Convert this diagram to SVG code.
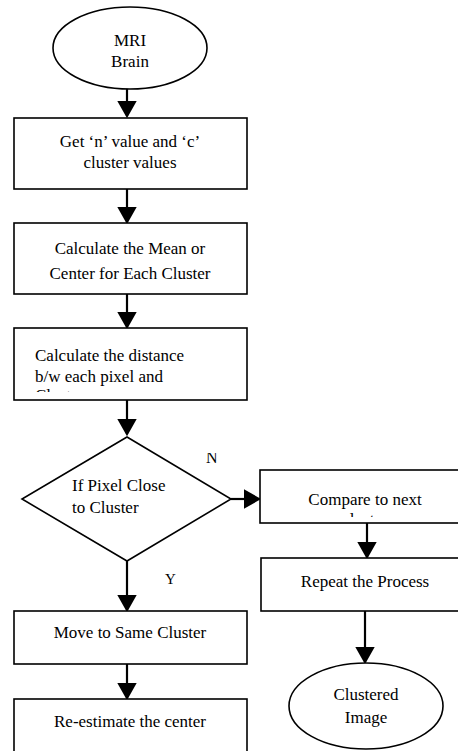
<svg xmlns="http://www.w3.org/2000/svg" width="458" height="751" viewBox="0 0 458 751">
<style>
.s{fill:#fff;stroke:#000;stroke-width:1.6}
.t{font-family:"Liberation Serif","Times New Roman",serif;font-size:17px;fill:#000}
.c{text-anchor:middle}
.l{fill:none;stroke:#000;stroke-width:2.2}
</style>
<defs>
<marker id="a" markerWidth="8" markerHeight="9" refX="7" refY="4.5" orient="auto" markerUnits="strokeWidth">
<path d="M0,0 L8,4.5 L0,9 Z" fill="#000"/>
</marker>
<clipPath id="c3"><rect x="14" y="328" width="233" height="64"/></clipPath>
<clipPath id="c5"><rect x="260" y="470" width="198" height="47"/></clipPath>
<clipPath id="cn"><rect x="200" y="453" width="30" height="12"/></clipPath>
</defs>
<g id="connectors">
<line class="l" x1="127" y1="88" x2="127" y2="116" marker-end="url(#a)"/>
<line class="l" x1="127" y1="189" x2="127" y2="222" marker-end="url(#a)"/>
<line class="l" x1="127" y1="294" x2="127" y2="327" marker-end="url(#a)"/>
<line class="l" x1="127" y1="400" x2="127" y2="434" marker-end="url(#a)"/>
<line class="l" x1="231" y1="499" x2="259" y2="499" marker-end="url(#a)"/>
<line class="l" x1="367" y1="523" x2="367" y2="557" marker-end="url(#a)"/>
<line class="l" x1="365" y1="611" x2="365" y2="662" marker-end="url(#a)"/>
<line class="l" x1="127" y1="561" x2="127" y2="610" marker-end="url(#a)"/>
<line class="l" x1="127" y1="664" x2="127" y2="698" marker-end="url(#a)"/>
<text class="t" x="206" y="463" clip-path="url(#cn)" style="font-size:16px">N</text>
<text class="t" x="165" y="584" style="font-size:15px">Y</text>
</g>
<g id="n1">
<ellipse class="s" cx="130" cy="48" rx="77" ry="41"/>
<text class="t c" x="130" y="46">MRI</text>
<text class="t c" x="130" y="67">Brain</text>
</g>
<g id="n2">
<rect class="s" x="14" y="118" width="233" height="71"/>
<text class="t c" x="130" y="147">Get ‘n’ value and ‘c’</text>
<text class="t c" x="130" y="168">cluster values</text>
</g>
<g id="n3">
<rect class="s" x="14" y="223" width="233" height="71"/>
<text class="t c" x="130" y="254">Calculate the Mean or</text>
<text class="t c" x="130" y="279">Center for Each Cluster</text>
</g>
<g id="n4">
<rect class="s" x="14" y="328" width="233" height="72"/>
<g clip-path="url(#c3)">
<text class="t" x="35" y="361">Calculate the distance</text>
<text class="t" x="35" y="382">b/w each pixel and</text>
<text class="t" x="35" y="401">Cluster</text>
</g>
</g>
<g id="n5">
<polygon class="s" points="127,437 231,499 127,561 22,499"/>
<text class="t" x="72" y="491">If Pixel Close</text>
<text class="t" x="72" y="513">to Cluster</text>
</g>
<g id="n6">
<rect class="s" x="260" y="470" width="200" height="53"/>
<g clip-path="url(#c5)">
<text class="t c" x="365" y="505">Compare to next</text>
<text class="t c" x="365" y="525">cluster</text>
</g>
</g>
<g id="n7">
<rect class="s" x="261" y="558" width="200" height="53"/>
<text class="t c" x="365" y="587">Repeat the Process</text>
</g>
<g id="n8">
<ellipse class="s" cx="366" cy="706" rx="77" ry="43"/>
<text class="t c" x="366" y="700">Clustered</text>
<text class="t c" x="366" y="723">Image</text>
</g>
<g id="n9">
<rect class="s" x="14" y="611" width="233" height="53"/>
<text class="t c" x="130" y="638">Move to Same Cluster</text>
</g>
<g id="n10">
<rect class="s" x="14" y="699" width="233" height="60"/>
<text class="t c" x="130" y="727">Re-estimate the center</text>
</g>
</svg>
